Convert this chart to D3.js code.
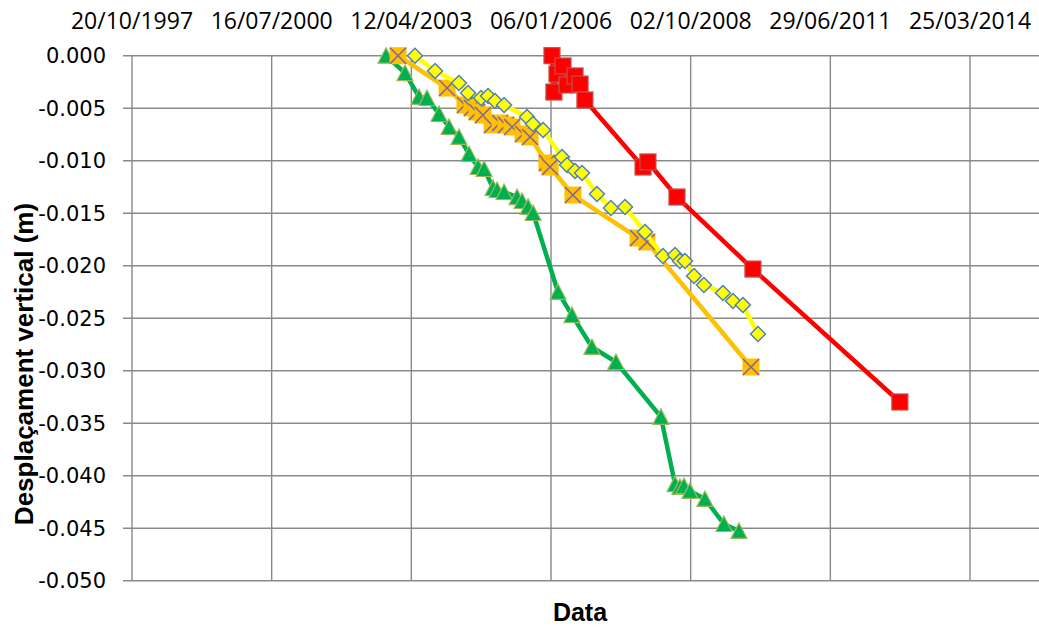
<!DOCTYPE html>
<html>
<head>
<meta charset="utf-8">
<script src="https://cdn.jsdelivr.net/npm/d3@7"></script>
<style>
  html, body { margin: 0; padding: 0; background: #fff; }
  svg { display: block; }
</style>
</head>
<body>
<svg id="chart" width="1039" height="630"></svg>
<script>
// ---------- DATA ----------
const xTickLabels = ["20/10/1997","16/07/2000","12/04/2003","06/01/2006","02/10/2008","29/06/2011","25/03/2014"];
const yTickValues = [0, -0.005, -0.010, -0.015, -0.020, -0.025, -0.030, -0.035, -0.040, -0.045, -0.050];
const yTickLabels = ["0.000","-0.005","-0.010","-0.015","-0.020","-0.025","-0.030","-0.035","-0.040","-0.045","-0.050"];

// Green series (triangles)
const greenDates = ["2002-10-13","2003-02-26","2003-06-06","2003-08-02","2003-10-27","2004-01-07","2004-03-18","2004-05-29","2004-08-02","2004-09-14","2004-11-17","2004-12-16","2005-02-04","2005-05-08","2005-06-13","2005-07-26","2005-08-31","2006-02-25","2006-06-05","2006-10-26","2007-04-16","2008-03-03","2008-06-12","2008-07-17","2008-08-15","2008-09-27","2009-01-12","2009-05-28","2009-09-13"];
const greenValues = [0,-0.00165,-0.00393,-0.00403,-0.00555,-0.00679,-0.00774,-0.00936,-0.0106,-0.01079,-0.0126,-0.01279,-0.01298,-0.01346,-0.01384,-0.0144,-0.01498,-0.0225,-0.0247,-0.02774,-0.02917,-0.0344,-0.0408,-0.04107,-0.04098,-0.04145,-0.04221,-0.0446,-0.04526];

// Orange series (X on orange square)
const orangeDates = ["2003-01-07","2003-12-24","2004-04-30","2004-06-19","2004-07-25","2004-09-06","2004-11-10","2005-01-06","2005-02-18","2005-04-02","2005-06-20","2005-08-09","2005-12-08","2005-12-30","2006-06-12","2007-09-21","2007-11-24","2009-12-08"];
const orangeValues = [0,-0.00308,-0.0047,-0.00498,-0.00536,-0.00565,-0.0066,-0.00641,-0.0066,-0.00679,-0.00746,-0.00774,-0.01022,-0.0106,-0.01327,-0.01736,-0.01774,-0.02965];

// Yellow series (diamonds)
const yellowDates = ["2003-05-08","2003-09-29","2004-03-18","2004-05-22","2004-08-23","2004-10-12","2004-12-01","2005-02-04","2005-07-18","2005-08-30","2005-11-10","2006-03-26","2006-05-01","2006-06-27","2006-08-16","2006-12-01","2007-03-11","2007-06-20","2007-11-10","2008-03-18","2008-06-12","2008-07-17","2008-08-22","2008-10-26","2009-01-05","2009-05-21","2009-08-01","2009-10-11","2010-01-27"];
const yellowValues = [0,-0.00146,-0.0026,-0.00355,-0.00403,-0.00384,-0.00431,-0.0047,-0.00584,-0.0065,-0.00708,-0.00965,-0.01041,-0.01098,-0.01117,-0.01317,-0.0145,-0.01441,-0.01679,-0.01908,-0.01898,-0.01955,-0.01955,-0.02098,-0.02184,-0.0226,-0.02336,-0.02374,-0.0265];

// Red series (squares)
const redDates = ["2006-01-13","2006-01-27","2006-02-18","2006-04-02","2006-05-01","2006-06-27","2006-08-02","2006-09-06","2007-10-27","2007-12-01","2008-06-26","2009-12-22","2012-11-08"];
const redValues = [0,-0.00346,-0.00174,-0.00098,-0.00279,-0.00193,-0.0027,-0.00422,-0.0106,-0.01012,-0.01346,-0.02032,-0.03298];

// ---------- CHART ----------
const svg = d3.select("#chart");
const plotLeft = 132, plotTop = 55.7, plotBottom = 580.7, plotRight = 1039;

const parseTick = d3.utcParse("%d/%m/%Y");
const parseISO = d3.utcParse("%Y-%m-%d");
const tickDates = xTickLabels.map(parseTick);

const x = d3.scaleUtc()
  .domain([tickDates[0], tickDates[tickDates.length - 1]])
  .range([plotLeft, 970]);
const y = d3.scaleLinear().domain([0, -0.05]).range([plotTop, plotBottom]);

const gridColor = "#898989";

// horizontal gridlines (with small ticks to the left)
svg.append("g").selectAll("line").data(yTickValues).join("line")
  .attr("x1", plotLeft - 9).attr("x2", plotRight)
  .attr("y1", d => y(d)).attr("y2", d => y(d))
  .attr("stroke", gridColor).attr("stroke-width", 1.4);

// vertical gridlines
svg.append("g").selectAll("line").data(tickDates).join("line")
  .attr("x1", d => x(d)).attr("x2", d => x(d))
  .attr("y1", plotTop).attr("y2", plotBottom)
  .attr("stroke", gridColor).attr("stroke-width", 1.4);

// top axis labels
svg.append("g").selectAll("text").data(tickDates).join("text")
  .attr("x", d => x(d)).attr("y", 29)
  .attr("text-anchor", "middle")
  .attr("font-family", "'Open Sans', sans-serif")
  .attr("font-size", 23)
  .attr("fill", "#000")
  .text((d, i) => xTickLabels[i]);

// y tick labels
svg.append("g").selectAll("text").data(yTickValues).join("text")
  .attr("x", 106).attr("y", d => y(d) + 7.5)
  .attr("text-anchor", "end")
  .attr("font-family", "'DejaVu Sans', sans-serif")
  .attr("font-size", 21)
  .attr("fill", "#000")
  .text((d, i) => yTickLabels[i]);

// axis titles
svg.append("text")
  .attr("transform", "translate(33,364) rotate(-90)")
  .attr("text-anchor", "middle")
  .attr("font-family", "'Liberation Sans', Arial, sans-serif")
  .attr("font-weight", "bold")
  .attr("font-size", 26)
  .text("Desplaçament vertical (m)");

svg.append("text")
  .attr("x", 580).attr("y", 621)
  .attr("text-anchor", "middle")
  .attr("font-family", "'Liberation Sans', Arial, sans-serif")
  .attr("font-weight", "bold")
  .attr("font-size", 25)
  .text("Data");

// series helper
function makeData(dates, values) {
  return dates.map((d, i) => ({ date: parseISO(d), v: values[i] }));
}
const line = d3.line().x(d => x(d.date)).y(d => y(d.v));

const plot = svg.append("g");

function drawSeries(data, lineColor, markerFn) {
  const g = plot.append("g");
  g.append("path").datum(data)
    .attr("d", line)
    .attr("fill", "none")
    .attr("stroke", lineColor)
    .attr("stroke-width", 4.5)
    .attr("stroke-linejoin", "round");
  const m = g.append("g").selectAll("g").data(data).join("g")
    .attr("transform", d => `translate(${x(d.date)},${y(d.v)})`);
  markerFn(m);
}

// Green triangles
drawSeries(makeData(greenDates, greenValues), "#00b050", m => {
  m.append("path")
    .attr("d", "M0,-8 L8,7.5 L-8,7.5 Z")
    .attr("fill", "#00b050")
    .attr("stroke", "#9bbb59")
    .attr("stroke-width", 1.2);
});

// Orange X markers
drawSeries(makeData(orangeDates, orangeValues), "#ffc000", m => {
  m.append("rect")
    .attr("x", -8.5).attr("y", -8.5).attr("width", 17).attr("height", 17)
    .attr("fill", "#ffc000");
  m.append("path")
    .attr("d", "M-8,-8 L8,8 M-8,8 L8,-8")
    .attr("stroke", "#7f64a1")
    .attr("stroke-width", 1.5)
    .attr("fill", "none");
});

// Yellow diamonds
drawSeries(makeData(yellowDates, yellowValues), "#ffff00", m => {
  m.append("path")
    .attr("d", "M0,-7.5 L7.5,0 L0,7.5 L-7.5,0 Z")
    .attr("fill", "#ffff00")
    .attr("stroke", "#4f81bd")
    .attr("stroke-width", 1.5);
});

// Red squares
drawSeries(makeData(redDates, redValues), "#ff0000", m => {
  m.append("rect")
    .attr("x", -8).attr("y", -8).attr("width", 16).attr("height", 16)
    .attr("fill", "#ff0000")
    .attr("stroke", "#c0504d")
    .attr("stroke-width", 1.2);
});
</script>
</body>
</html>
